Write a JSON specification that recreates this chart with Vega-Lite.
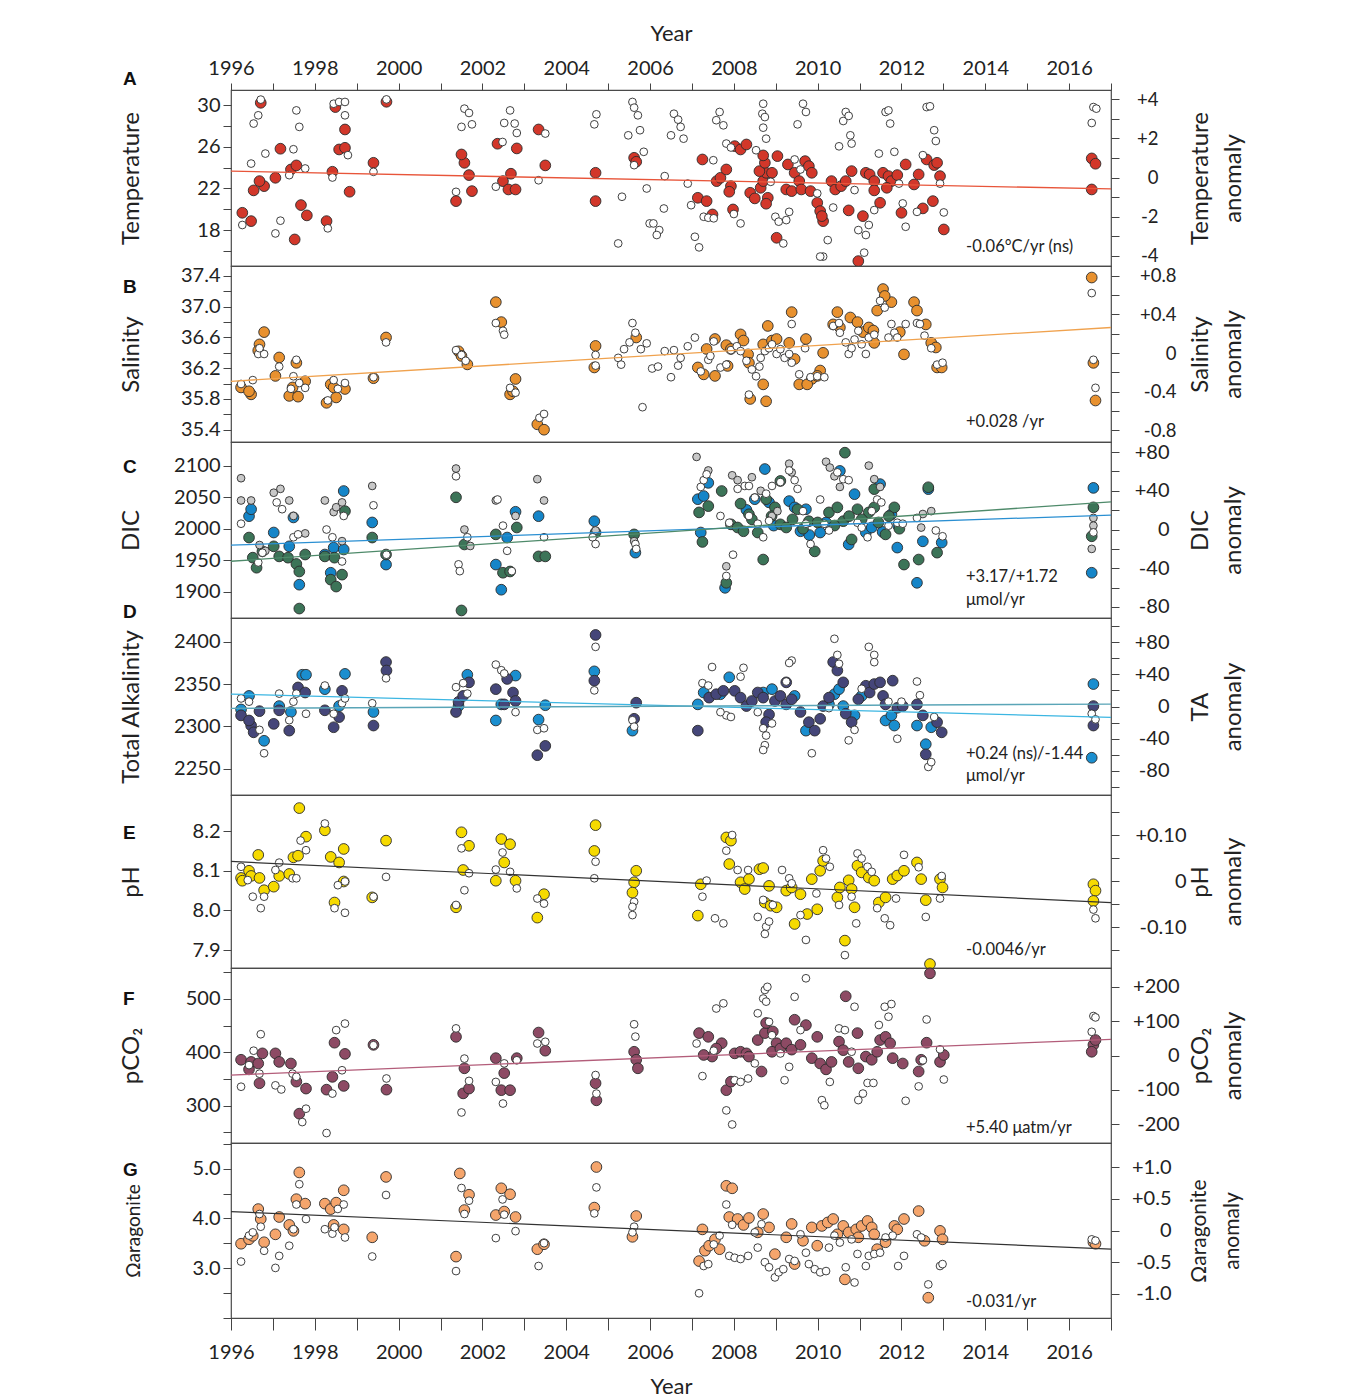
{
"$schema":"https://vega.github.io/schema/vega-lite/v6.json",
"background":"white",
"padding":{"left":118,"top":21,"right":5,"bottom":5},
"bounds":"flush",
"spacing":0,
"resolve":{"scale":{"fill":"independent","color":"independent"}},
"config":{"font":"Lato","view":{"stroke":"#4a4a4a","strokeWidth":1.2},
 "axis":{"labelFontSize":20,"labelColor":"#222","tickColor":"#444","tickWidth":1,"domain":false,"grid":false,"titleFontWeight":"normal","titleFontSize":24,"titleColor":"#222","tickSize":8,"labelOverlap":false,"labelFlush":false,"titleLineHeight":33},
 "title":{"font":"Liberation Sans","fontSize":19,"fontWeight":"bold","color":"#111","anchor":"start","frame":"group","offset":0,"baseline":"bottom"}},
"vconcat":[
{"width":880,"height":176,"title":{"text":"A","dx":-108,"dy":71},
 "layer":[
 {"data":{"values":[{"x":1996.27,"y":19.66},{"x":1996.48,"y":18.86},{"x":1996.54,"y":21.81},{"x":1996.79,"y":22.22},{"x":1996.68,"y":22.7},{"x":1997.06,"y":23.02},{"x":1997.18,"y":25.81},{"x":1997.43,"y":23.82},{"x":1997.56,"y":24.21},{"x":1997.67,"y":20.4},{"x":1997.81,"y":19.41},{"x":1997.52,"y":17.1},{"x":1998.28,"y":18.86},{"x":1998.42,"y":23.6},{"x":1998.49,"y":29.81},{"x":1998.58,"y":25.74},{"x":1998.72,"y":25.9},{"x":1998.72,"y":27.66},{"x":1998.83,"y":21.68},{"x":1996.71,"y":30.22},{"x":1999.4,"y":24.46},{"x":1999.71,"y":30.32},{"x":2001.37,"y":20.78},{"x":2001.75,"y":21.74},{"x":2001.68,"y":23.28},{"x":2001.57,"y":24.46},{"x":2001.5,"y":25.26},{"x":2002.36,"y":26.29},{"x":2002.82,"y":25.84},{"x":2002.68,"y":23.41},{"x":2002.49,"y":22.7},{"x":2002.62,"y":21.9},{"x":2002.79,"y":21.9},{"x":2003.34,"y":27.66},{"x":2003.5,"y":24.21},{"x":2004.7,"y":23.5},{"x":2004.7,"y":20.78},{"x":2005.62,"y":24.94},{"x":2005.67,"y":24.56},{"x":2007.25,"y":24.78},{"x":2007.14,"y":21.1},{"x":2007.35,"y":20.78},{"x":2007.49,"y":19.5},{"x":2007.59,"y":22.7},{"x":2007.68,"y":23.02},{"x":2007.82,"y":23.82},{"x":2007.93,"y":22.22},{"x":2007.89,"y":21.68},{"x":2007.98,"y":19.98},{"x":2008.02,"y":26.06},{"x":2008.16,"y":25.74},{"x":2008.3,"y":26.22},{"x":2008.39,"y":21.58},{"x":2008.5,"y":21.04},{"x":2008.64,"y":22.06},{"x":2008.7,"y":22.7},{"x":2008.77,"y":23.5},{"x":2008.61,"y":23.66},{"x":2008.74,"y":24.46},{"x":2008.81,"y":21.1},{"x":2008.77,"y":20.53},{"x":2008.7,"y":25.17},{"x":2008.91,"y":23.5},{"x":2009.04,"y":25.1},{"x":2009.02,"y":17.26},{"x":2009.29,"y":24.3},{"x":2009.25,"y":21.9},{"x":2009.38,"y":21.74},{"x":2009.45,"y":23.5},{"x":2009.56,"y":22.7},{"x":2009.61,"y":21.9},{"x":2009.7,"y":24.62},{"x":2009.79,"y":24.14},{"x":2009.86,"y":23.5},{"x":2009.83,"y":21.74},{"x":2009.99,"y":20.62},{"x":2010.06,"y":19.82},{"x":2010.13,"y":18.86},{"x":2010.1,"y":19.34},{"x":2010.33,"y":22.7},{"x":2010.42,"y":21.9},{"x":2010.56,"y":22.22},{"x":2010.67,"y":22.7},{"x":2010.81,"y":23.66},{"x":2010.74,"y":19.89},{"x":2010.97,"y":15.02},{"x":2011.08,"y":19.34},{"x":2011.15,"y":23.5},{"x":2011.24,"y":23.34},{"x":2011.35,"y":22.7},{"x":2011.35,"y":21.81},{"x":2011.49,"y":20.62},{"x":2011.56,"y":23.5},{"x":2011.69,"y":23.18},{"x":2011.76,"y":22.7},{"x":2011.9,"y":23.28},{"x":2011.65,"y":22.06},{"x":2012.0,"y":19.66},{"x":2012.1,"y":24.3},{"x":2012.3,"y":22.38},{"x":2012.41,"y":23.34},{"x":2012.51,"y":20.08},{"x":2012.6,"y":24.78},{"x":2012.78,"y":24.24},{"x":2012.85,"y":24.46},{"x":2012.75,"y":20.78},{"x":2012.92,"y":23.18},{"x":2013.01,"y":18.06},{"x":2016.54,"y":24.88},{"x":2016.63,"y":24.37},{"x":2016.54,"y":21.9}]},
  "mark":{"type":"circle","size":115,"opacity":1,"fill":"#d2372a","stroke":"#2b2b2b","strokeWidth":0.9},
  "encoding":{"x":{"field":"x","type":"quantitative","scale":{"domain":[1996,2017],"nice":false,"zero":false},"axis":{"orient":"top","title":"Year","values":[1996,1997,1998,1999,2000,2001,2002,2003,2004,2005,2006,2007,2008,2009,2010,2011,2012,2013,2014,2015,2016,2017],"labelExpr":"datum.value % 2 == 0 ? datum.value + '' : ''","tickSize":7,"labelPadding":5,"titlePadding":13,"titleFontSize":22}},
   "y":{"field":"y","type":"quantitative","scale":{"domain":[14.55,31.45],"nice":false,"zero":false},"axis":{"orient":"left","title":"Temperature","values":[16,18,20,22,24,26,28,30],"labelExpr":"datum.value % 4 == 2 ? datum.value + '' : ''","labelPadding":3,"titleAngle":270,"titleBaseline":"bottom","titleAlign":"center","titleX":-88,"titleY":88}}}},
 {"data":{"values":[{"x":1996.71,"y":3.97},{"x":1996.65,"y":3.17},{"x":1996.54,"y":2.75},{"x":1997.56,"y":3.42},{"x":1997.63,"y":2.58},{"x":1996.82,"y":1.22},{"x":1996.48,"y":0.71},{"x":1997.49,"y":1.44},{"x":1997.39,"y":0.12},{"x":1997.77,"y":0.46},{"x":1996.27,"y":-2.42},{"x":1997.18,"y":-2.2},{"x":1997.06,"y":-2.85},{"x":1998.45,"y":3.76},{"x":1998.58,"y":3.85},{"x":1998.72,"y":3.85},{"x":1998.72,"y":3.17},{"x":1998.42,"y":0},{"x":1998.79,"y":1.14},{"x":1998.31,"y":-2.59},{"x":1999.4,"y":0.29},{"x":1999.71,"y":3.98},{"x":2001.57,"y":3.51},{"x":2001.68,"y":3.29},{"x":2001.5,"y":2.58},{"x":2001.75,"y":2.71},{"x":2001.37,"y":-0.73},{"x":2002.66,"y":3.42},{"x":2002.52,"y":2.78},{"x":2002.77,"y":2.75},{"x":2002.82,"y":2.27},{"x":2002.48,"y":1.81},{"x":2002.32,"y":-0.47},{"x":2003.34,"y":-0.14},{"x":2003.5,"y":2.24},{"x":2004.72,"y":3.22},{"x":2004.67,"y":2.71},{"x":2005.58,"y":3.85},{"x":2005.62,"y":3.56},{"x":2005.71,"y":3.17},{"x":2005.76,"y":2.41},{"x":2005.48,"y":2.15},{"x":2005.85,"y":1.31},{"x":2005.62,"y":0.63},{"x":2005.92,"y":-0.56},{"x":2005.33,"y":-0.98},{"x":2005.24,"y":-3.36},{"x":2006.35,"y":0.07},{"x":2006.33,"y":-1.58},{"x":2005.99,"y":-2.34},{"x":2006.08,"y":-2.34},{"x":2006.22,"y":-2.68},{"x":2006.16,"y":-2.93},{"x":2006.57,"y":3.25},{"x":2006.67,"y":2.95},{"x":2006.73,"y":2.58},{"x":2006.5,"y":2.15},{"x":2006.8,"y":1.98},{"x":2006.9,"y":-0.31},{"x":2007.07,"y":-3.02},{"x":2007.17,"y":-3.56},{"x":2006.98,"y":-1.41},{"x":2007.51,"y":0.88},{"x":2007.28,"y":-2.0},{"x":2007.39,"y":-2.05},{"x":2007.52,"y":-2.08},{"x":2007.66,"y":3.34},{"x":2007.58,"y":2.92},{"x":2007.75,"y":2.66},{"x":2007.82,"y":1.73},{"x":2007.93,"y":1.53},{"x":2008.0,"y":-1.86},{"x":2008.16,"y":-2.34},{"x":2008.53,"y":1.39},{"x":2008.7,"y":3.76},{"x":2008.68,"y":3.25},{"x":2008.74,"y":3.08},{"x":2008.7,"y":2.54},{"x":2008.77,"y":1.98},{"x":2008.88,"y":-0.22},{"x":2008.99,"y":-2.0},{"x":2009.07,"y":-2.25},{"x":2009.18,"y":-3.36},{"x":2009.25,"y":-2.17},{"x":2009.32,"y":-1.75},{"x":2009.65,"y":3.76},{"x":2009.72,"y":3.34},{"x":2009.52,"y":2.71},{"x":2009.45,"y":0.92},{"x":2009.59,"y":0.41},{"x":2009.99,"y":-0.81},{"x":2010.24,"y":-3.19},{"x":2010.13,"y":-4.03},{"x":2010.06,"y":-4.03},{"x":2010.37,"y":-1.53},{"x":2010.51,"y":1.59},{"x":2010.81,"y":1.73},{"x":2010.78,"y":2.15},{"x":2010.67,"y":3.34},{"x":2010.61,"y":2.88},{"x":2010.74,"y":3.14},{"x":2010.88,"y":-0.64},{"x":2010.97,"y":-2.68},{"x":2011.15,"y":-2.93},{"x":2011.22,"y":-2.42},{"x":2011.11,"y":-3.83},{"x":2011.46,"y":1.22},{"x":2011.83,"y":1.31},{"x":2011.62,"y":3.34},{"x":2011.69,"y":3.42},{"x":2011.73,"y":2.75},{"x":2011.35,"y":-1.66},{"x":2012.1,"y":-2.51},{"x":2012.03,"y":-1.32},{"x":2011.94,"y":-0.31},{"x":2012.37,"y":-1.75},{"x":2012.6,"y":3.59},{"x":2012.68,"y":3.63},{"x":2012.78,"y":2.41},{"x":2012.82,"y":1.86},{"x":2012.51,"y":1.14},{"x":2012.92,"y":-0.31},{"x":2013.01,"y":-1.78},{"x":2016.58,"y":3.59},{"x":2016.65,"y":3.51},{"x":2016.54,"y":2.78}]},
  "mark":{"type":"circle","size":60,"opacity":1,"fill":"#ffffff","stroke":"#2b2b2b","strokeWidth":0.9},
  "encoding":{"x":{"field":"x","type":"quantitative","scale":{"domain":[1996,2017],"nice":false,"zero":false},"axis":{"orient":"top","title":"Year","values":[1996,1997,1998,1999,2000,2001,2002,2003,2004,2005,2006,2007,2008,2009,2010,2011,2012,2013,2014,2015,2016,2017],"labelExpr":"datum.value % 2 == 0 ? datum.value + '' : ''","tickSize":7,"labelPadding":5,"titlePadding":13,"titleFontSize":22}},
   "y":{"field":"y","type":"quantitative","scale":{"domain":[-4.51,4.46],"nice":false,"zero":false},"axis":{"orient":"right","title":["Temperature","anomaly"],"labelFontSize":18.5,"values":[-4,-3,-2,-1,0,1,2,3,4],"labelExpr":"datum.value % 2 != 0 ? '' : datum.value > 0 ? '+' + datum.value : datum.value < 0 ? '-' + abs(datum.value) : '0'","labelAlign":"right","labelPadding":39,"titleAngle":270,"titleBaseline":"top","titleAlign":"center","titleX":77,"titleY":88}}}},
 {"data":{"values":[{"x":1996,"y":23.66},{"x":2017,"y":21.95}]},
  "mark":{"type":"line","stroke":"#e8553a","strokeWidth":1.3},
  "encoding":{"x":{"field":"x","type":"quantitative","scale":{"domain":[1996,2017],"nice":false,"zero":false},"axis":{"orient":"top","title":"Year","values":[1996,1997,1998,1999,2000,2001,2002,2003,2004,2005,2006,2007,2008,2009,2010,2011,2012,2013,2014,2015,2016,2017],"labelExpr":"datum.value % 2 == 0 ? datum.value + '' : ''","tickSize":7,"labelPadding":5,"titlePadding":13,"titleFontSize":22}},
   "y":{"field":"y","type":"quantitative","scale":{"domain":[14.55,31.45],"nice":false,"zero":false},"axis":null}}},
 {"data":{"values":[{"x":2013.54,"y":16.37,"t":"-0.06°C/yr (ns)"}]},
  "mark":{"type":"text","align":"left","baseline":"middle","fontSize":16.5,"color":"#222"},
  "encoding":{"x":{"field":"x","type":"quantitative","scale":{"domain":[1996,2017],"nice":false,"zero":false},"axis":{"orient":"top","title":"Year","values":[1996,1997,1998,1999,2000,2001,2002,2003,2004,2005,2006,2007,2008,2009,2010,2011,2012,2013,2014,2015,2016,2017],"labelExpr":"datum.value % 2 == 0 ? datum.value + '' : ''","tickSize":7,"labelPadding":5,"titlePadding":13,"titleFontSize":22}},
   "y":{"field":"y","type":"quantitative","scale":{"domain":[14.55,31.45],"nice":false,"zero":false},"axis":null},"text":{"field":"t"}}}
 ],
 "resolve":{"scale":{"y":"independent"}}},

{"width":880,"height":176,"title":{"text":"B","dx":-108,"dy":35},
 "layer":[
 {"data":{"values":[{"x":1996.24,"y":35.95},{"x":1996.48,"y":35.86},{"x":1996.43,"y":35.9},{"x":1996.79,"y":36.67},{"x":1996.68,"y":36.51},{"x":1996.65,"y":36.43},{"x":1997.06,"y":36.1},{"x":1997.15,"y":36.34},{"x":1997.56,"y":36.27},{"x":1997.77,"y":36.03},{"x":1997.39,"y":35.84},{"x":1997.6,"y":35.83},{"x":1997.47,"y":35.95},{"x":1998.38,"y":35.99},{"x":1998.51,"y":35.82},{"x":1998.28,"y":35.75},{"x":1998.72,"y":35.93},{"x":1998.45,"y":35.95},{"x":1999.4,"y":36.07},{"x":1999.7,"y":36.6},{"x":2001.43,"y":36.42},{"x":2001.5,"y":36.36},{"x":2001.64,"y":36.25},{"x":2002.32,"y":37.06},{"x":2002.45,"y":36.8},{"x":2002.79,"y":36.06},{"x":2002.66,"y":35.86},{"x":2002.73,"y":35.9},{"x":2003.31,"y":35.47},{"x":2003.47,"y":35.4},{"x":2004.7,"y":36.49},{"x":2004.67,"y":36.21},{"x":2005.67,"y":36.6},{"x":2007.14,"y":36.21},{"x":2007.28,"y":36.12},{"x":2007.35,"y":36.45},{"x":2007.55,"y":36.58},{"x":2007.55,"y":36.1},{"x":2007.82,"y":36.5},{"x":2007.93,"y":36.45},{"x":2007.85,"y":36.23},{"x":2008.16,"y":36.64},{"x":2008.23,"y":36.56},{"x":2008.34,"y":36.38},{"x":2008.36,"y":36.27},{"x":2008.39,"y":35.8},{"x":2008.77,"y":35.77},{"x":2008.7,"y":35.99},{"x":2008.81,"y":36.75},{"x":2008.7,"y":36.51},{"x":2008.91,"y":36.56},{"x":2009.02,"y":36.58},{"x":2009.32,"y":36.53},{"x":2009.38,"y":36.93},{"x":2009.45,"y":36.32},{"x":2009.72,"y":36.58},{"x":2009.56,"y":35.99},{"x":2009.86,"y":36.06},{"x":2009.75,"y":35.99},{"x":2010.06,"y":36.17},{"x":2010.13,"y":36.4},{"x":2009.99,"y":36.1},{"x":2010.47,"y":36.93},{"x":2010.53,"y":36.73},{"x":2010.37,"y":36.77},{"x":2010.78,"y":36.86},{"x":2010.95,"y":36.8},{"x":2011.08,"y":36.67},{"x":2011.22,"y":36.73},{"x":2011.33,"y":36.69},{"x":2011.42,"y":36.95},{"x":2011.56,"y":37.23},{"x":2011.76,"y":37.06},{"x":2011.6,"y":37.14},{"x":2011.35,"y":36.53},{"x":2011.96,"y":36.67},{"x":2012.06,"y":36.38},{"x":2012.3,"y":37.06},{"x":2012.37,"y":36.95},{"x":2012.58,"y":36.77},{"x":2012.71,"y":36.53},{"x":2012.82,"y":36.47},{"x":2012.85,"y":36.21},{"x":2012.96,"y":36.21},{"x":2016.54,"y":37.38},{"x":2016.58,"y":36.27},{"x":2016.63,"y":35.78}]},
  "mark":{"type":"circle","size":115,"opacity":1,"fill":"#e8912f","stroke":"#2b2b2b","strokeWidth":0.9},
  "encoding":{"x":{"field":"x","type":"quantitative","scale":{"domain":[1996,2017],"nice":false,"zero":false},"axis":null},
   "y":{"field":"y","type":"quantitative","scale":{"domain":[35.24,37.53],"nice":false,"zero":false},"axis":{"orient":"left","title":"Salinity","values":[35.4,35.6,35.8,36.0,36.2,36.4,36.6,36.8,37.0,37.2,37.4],"labelExpr":"round(datum.value*10) % 4 == 2 ? format(datum.value,'.1f') : ''","labelPadding":3,"titleAngle":270,"titleBaseline":"bottom","titleAlign":"center","titleX":-88,"titleY":88}}}},
 {"data":{"values":[{"x":1996.24,"y":-0.32},{"x":1996.52,"y":-0.28},{"x":1996.65,"y":-0.01},{"x":1996.79,"y":-0.01},{"x":1996.68,"y":0.05},{"x":1997.15,"y":-0.14},{"x":1997.49,"y":-0.24},{"x":1997.63,"y":-0.31},{"x":1997.77,"y":-0.36},{"x":1997.43,"y":-0.37},{"x":1997.56,"y":-0.07},{"x":1998.45,"y":-0.28},{"x":1998.55,"y":-0.37},{"x":1998.72,"y":-0.31},{"x":1998.31,"y":-0.49},{"x":1999.4,"y":-0.25},{"x":1999.7,"y":0.11},{"x":2001.37,"y":0.03},{"x":2001.5,"y":-0.02},{"x":2001.6,"y":-0.08},{"x":2002.32,"y":0.31},{"x":2002.49,"y":0.23},{"x":2002.52,"y":0.19},{"x":2002.66,"y":-0.36},{"x":2002.79,"y":-0.41},{"x":2003.36,"y":-0.67},{"x":2003.47,"y":-0.63},{"x":2004.7,"y":-0.02},{"x":2004.7,"y":-0.13},{"x":2005.58,"y":0.31},{"x":2005.51,"y":0.11},{"x":2005.65,"y":0.21},{"x":2005.24,"y":-0.05},{"x":2005.38,"y":0.04},{"x":2005.31,"y":-0.12},{"x":2005.78,"y":0.04},{"x":2005.92,"y":0.1},{"x":2005.82,"y":-0.56},{"x":2006.05,"y":-0.16},{"x":2006.19,"y":-0.14},{"x":2006.35,"y":0.02},{"x":2006.57,"y":0.03},{"x":2006.5,"y":-0.25},{"x":2006.67,"y":-0.13},{"x":2006.73,"y":-0.05},{"x":2006.9,"y":0.07},{"x":2007.07,"y":0.16},{"x":2007.21,"y":-0.19},{"x":2007.39,"y":-0.07},{"x":2007.44,"y":-0.03},{"x":2007.52,"y":0.12},{"x":2007.68,"y":-0.15},{"x":2007.82,"y":-0.12},{"x":2007.93,"y":0.03},{"x":2008.07,"y":0.07},{"x":2008.16,"y":0.02},{"x":2008.3,"y":-0.08},{"x":2008.43,"y":-0.17},{"x":2008.53,"y":-0.24},{"x":2008.61,"y":-0.14},{"x":2008.36,"y":-0.43},{"x":2008.64,"y":-0.05},{"x":2008.74,"y":0.02},{"x":2008.84,"y":0.05},{"x":2008.91,"y":0.09},{"x":2009.02,"y":-0.01},{"x":2009.11,"y":0.04},{"x":2009.21,"y":-0.05},{"x":2009.32,"y":-0.01},{"x":2009.38,"y":-0.1},{"x":2009.38,"y":0.3},{"x":2009.56,"y":-0.22},{"x":2009.7,"y":0.05},{"x":2009.83,"y":-0.25},{"x":2009.99,"y":-0.24},{"x":2010.16,"y":-0.25},{"x":2010.37,"y":0.28},{"x":2010.51,"y":0.31},{"x":2010.53,"y":0.21},{"x":2010.67,"y":0.11},{"x":2010.74,"y":-0.01},{"x":2010.81,"y":0.05},{"x":2010.88,"y":0.14},{"x":2010.97,"y":0.23},{"x":2011.05,"y":0.09},{"x":2011.15,"y":-0.01},{"x":2011.22,"y":0.16},{"x":2011.35,"y":0.19},{"x":2011.49,"y":0.54},{"x":2011.6,"y":0.47},{"x":2011.76,"y":0.3},{"x":2011.69,"y":0.16},{"x":2011.83,"y":0.21},{"x":2011.9,"y":0.16},{"x":2012.1,"y":0.3},{"x":2012.37,"y":0.31},{"x":2012.44,"y":0.3},{"x":2012.55,"y":0.18},{"x":2012.71,"y":0.05},{"x":2012.85,"y":-0.12},{"x":2012.98,"y":-0.1},{"x":2016.54,"y":0.62},{"x":2016.58,"y":-0.07},{"x":2016.63,"y":-0.36}]},
  "mark":{"type":"circle","size":60,"opacity":1,"fill":"#ffffff","stroke":"#2b2b2b","strokeWidth":0.9},
  "encoding":{"x":{"field":"x","type":"quantitative","scale":{"domain":[1996,2017],"nice":false,"zero":false},"axis":null},
   "y":{"field":"y","type":"quantitative","scale":{"domain":[-0.92,0.9],"nice":false,"zero":false},"axis":{"orient":"right","title":["Salinity","anomaly"],"labelFontSize":18.5,"values":[-0.8,-0.6,-0.4,-0.2,0,0.2,0.4,0.6,0.8],"labelExpr":"round(datum.value*10) % 4 != 0 ? '' : datum.value > 0.01 ? '+' + format(datum.value,'.1f') : datum.value < -0.01 ? '-' + format(-datum.value,'.1f') : '0'","labelAlign":"right","labelPadding":57,"titleAngle":270,"titleBaseline":"top","titleAlign":"center","titleX":77,"titleY":88}}}},
 {"data":{"values":[{"x":1996,"y":36.03},{"x":2017,"y":36.73}]},
  "mark":{"type":"line","stroke":"#f0a24e","strokeWidth":1.3},
  "encoding":{"x":{"field":"x","type":"quantitative","scale":{"domain":[1996,2017],"nice":false,"zero":false},"axis":null},
   "y":{"field":"y","type":"quantitative","scale":{"domain":[35.24,37.53],"nice":false,"zero":false},"axis":null}}},
 {"data":{"values":[{"x":2013.54,"y":35.5,"t":"+0.028 /yr"}]},
  "mark":{"type":"text","align":"left","baseline":"middle","fontSize":16.5,"color":"#222"},
  "encoding":{"x":{"field":"x","type":"quantitative","scale":{"domain":[1996,2017],"nice":false,"zero":false},"axis":null},
   "y":{"field":"y","type":"quantitative","scale":{"domain":[35.24,37.53],"nice":false,"zero":false},"axis":null},"text":{"field":"t"}}}
 ],
 "resolve":{"scale":{"y":"independent"}}},

{"width":880,"height":176,"title":{"text":"C","dx":-108,"dy":39},
 "layer":[
 {"data":{"values":[{"s":"b","x":1996.43,"y":2020},{"s":"b","x":1996.48,"y":2031},{"s":"b","x":1997.02,"y":1994},{"s":"b","x":1997.39,"y":1972},{"s":"b","x":1997.49,"y":2018},{"s":"b","x":1997.63,"y":1911},{"s":"b","x":1998.24,"y":1959},{"s":"b","x":1998.45,"y":1970},{"s":"b","x":1998.69,"y":2060},{"s":"b","x":1998.38,"y":1930},{"s":"b","x":1998.69,"y":1967},{"s":"b","x":1999.37,"y":2010},{"s":"b","x":1999.7,"y":1943},{"s":"b","x":2002.32,"y":1943},{"s":"b","x":2002.45,"y":1903},{"s":"b","x":2002.79,"y":2027},{"s":"b","x":2002.59,"y":1986},{"s":"b","x":2003.34,"y":2020},{"s":"b","x":2004.67,"y":2012},{"s":"b","x":2005.65,"y":1962},{"s":"b","x":2007.14,"y":2047},{"s":"b","x":2007.28,"y":2052},{"s":"b","x":2007.39,"y":2073},{"s":"b","x":2007.21,"y":1994},{"s":"b","x":2007.79,"y":1906},{"s":"b","x":2008.74,"y":2095},{"s":"b","x":2008.5,"y":2047},{"s":"b","x":2008.84,"y":2042},{"s":"b","x":2009.32,"y":2044},{"s":"b","x":2009.45,"y":2034},{"s":"b","x":2009.59,"y":1996},{"s":"b","x":2009.72,"y":2031},{"s":"b","x":2010.06,"y":1994},{"s":"b","x":2010.53,"y":2092},{"s":"b","x":2010.88,"y":2055},{"s":"b","x":2010.74,"y":1975},{"s":"b","x":2011.15,"y":1994},{"s":"b","x":2011.29,"y":2002},{"s":"b","x":2011.49,"y":2071},{"s":"b","x":2011.76,"y":2023},{"s":"b","x":2011.9,"y":1970},{"s":"b","x":2012.37,"y":1914},{"s":"b","x":2012.51,"y":1980},{"s":"b","x":2012.64,"y":2063},{"s":"b","x":2012.96,"y":1978},{"s":"b","x":2016.58,"y":2065},{"s":"b","x":2016.54,"y":1930},{"s":"b","x":2008.3,"y":2030},{"s":"b","x":2008.95,"y":2005},{"s":"b","x":2009.8,"y":1990},{"s":"b","x":2010.2,"y":2010},{"s":"b","x":2011.55,"y":1995},{"s":"b","x":2011.92,"y":2005},
 {"s":"g","x":1996.43,"y":1986},{"s":"g","x":1996.61,"y":1938},{"s":"g","x":1996.52,"y":1954},{"s":"g","x":1996.75,"y":1964},{"s":"g","x":1997.02,"y":1972},{"s":"g","x":1997.15,"y":1956},{"s":"g","x":1997.36,"y":1954},{"s":"g","x":1997.56,"y":1944},{"s":"g","x":1997.63,"y":1932},{"s":"g","x":1997.63,"y":1873},{"s":"g","x":1997.77,"y":1959},{"s":"g","x":1998.24,"y":1956},{"s":"g","x":1998.38,"y":1919},{"s":"g","x":1998.51,"y":1908},{"s":"g","x":1998.65,"y":1927},{"s":"g","x":1998.47,"y":1954},{"s":"g","x":1998.72,"y":2028},{"s":"g","x":1999.37,"y":1986},{"s":"g","x":1999.7,"y":1959},{"s":"g","x":2001.37,"y":2050},{"s":"g","x":2001.5,"y":1870},{"s":"g","x":2001.57,"y":1975},{"s":"g","x":2002.32,"y":1991},{"s":"g","x":2002.49,"y":1930},{"s":"g","x":2002.66,"y":1932},{"s":"g","x":2002.82,"y":2002},{"s":"g","x":2003.34,"y":1956},{"s":"g","x":2003.5,"y":1956},{"s":"g","x":2004.7,"y":1994},{"s":"g","x":2005.62,"y":1991},{"s":"g","x":2007.17,"y":2026},{"s":"g","x":2007.39,"y":2036},{"s":"g","x":2007.25,"y":1979},{"s":"g","x":2007.71,"y":2060},{"s":"g","x":2007.82,"y":1914},{"s":"g","x":2007.93,"y":2007},{"s":"g","x":2008.09,"y":2002},{"s":"g","x":2008.23,"y":1996},{"s":"g","x":2008.36,"y":2023},{"s":"g","x":2008.57,"y":1994},{"s":"g","x":2008.7,"y":1951},{"s":"g","x":2008.77,"y":2047},{"s":"g","x":2008.98,"y":2034},{"s":"g","x":2009.11,"y":2076},{"s":"g","x":2009.11,"y":2007},{"s":"g","x":2009.25,"y":2002},{"s":"g","x":2009.52,"y":2031},{"s":"g","x":2009.79,"y":2012},{"s":"g","x":2009.93,"y":1964},{"s":"g","x":2010.27,"y":2026},{"s":"g","x":2010.47,"y":2034},{"s":"g","x":2010.65,"y":2121},{"s":"g","x":2010.61,"y":2012},{"s":"g","x":2010.81,"y":1983},{"s":"g","x":2010.95,"y":2031},{"s":"g","x":2011.22,"y":2026},{"s":"g","x":2011.35,"y":2034},{"s":"g","x":2011.35,"y":2063},{"s":"g","x":2011.62,"y":1991},{"s":"g","x":2011.83,"y":2034},{"s":"g","x":2012.06,"y":1943},{"s":"g","x":2012.41,"y":1951},{"s":"g","x":2012.64,"y":2066},{"s":"g","x":2012.85,"y":1962},{"s":"g","x":2016.58,"y":2034},{"s":"g","x":2016.54,"y":1988},{"s":"g","x":2008.16,"y":2040},{"s":"g","x":2008.43,"y":2015},{"s":"g","x":2008.9,"y":2020},{"s":"g","x":2009.4,"y":2015},{"s":"g","x":2009.65,"y":2000},{"s":"g","x":2010.0,"y":2010},{"s":"g","x":2010.4,"y":2005},{"s":"g","x":2010.75,"y":2020},{"s":"g","x":2011.05,"y":2015},{"s":"g","x":2011.45,"y":2010},{"s":"g","x":2011.7,"y":2020},{"s":"g","x":2011.95,"y":2000}]},
  "mark":{"type":"circle","size":115,"opacity":1,"stroke":"#2b2b2b","strokeWidth":0.9},
  "encoding":{"x":{"field":"x","type":"quantitative","scale":{"domain":[1996,2017],"nice":false,"zero":false},"axis":null},
   "y":{"field":"y","type":"quantitative","scale":{"domain":[1858,2138],"nice":false,"zero":false},"axis":{"orient":"left","title":"DIC","values":[1900,1950,2000,2050,2100],"format":"d","labelPadding":3,"titleAngle":270,"titleBaseline":"bottom","titleAlign":"center","titleX":-88,"titleY":88}},
   "fill":{"field":"s","type":"nominal","scale":{"domain":["b","g"],"range":["#1585c8","#3c7458"]},"legend":null}}},
 {"data":{"values":[{"s":"g","x":1996.24,"y":53},{"s":"g","x":1996.24,"y":30},{"s":"g","x":1996.48,"y":30},{"s":"g","x":1996.68,"y":-16},{"s":"g","x":1996.82,"y":-22},{"s":"g","x":1997.02,"y":38},{"s":"g","x":1997.18,"y":42},{"s":"g","x":1997.39,"y":30},{"s":"g","x":1997.49,"y":14},{"s":"g","x":1997.77,"y":-4},{"s":"g","x":1998.24,"y":30},{"s":"g","x":1998.45,"y":18},{"s":"g","x":1998.51,"y":23},{"s":"g","x":1998.65,"y":28},{"s":"g","x":1998.65,"y":-12},{"s":"g","x":1999.37,"y":45},{"s":"g","x":2001.37,"y":63},{"s":"g","x":2001.57,"y":0},{"s":"g","x":2001.71,"y":-17},{"s":"g","x":2002.32,"y":30},{"s":"g","x":2002.79,"y":14},{"s":"g","x":2003.31,"y":52},{"s":"g","x":2003.47,"y":30},{"s":"g","x":2004.7,"y":-1},{"s":"g","x":2005.62,"y":-12},{"s":"g","x":2007.11,"y":75},{"s":"g","x":2007.39,"y":61},{"s":"g","x":2007.82,"y":-38},{"s":"g","x":2007.96,"y":56},{"s":"g","x":2008.09,"y":51},{"s":"g","x":2008.43,"y":54},{"s":"g","x":2008.64,"y":40},{"s":"g","x":2008.91,"y":14},{"s":"g","x":2009.04,"y":19},{"s":"g","x":2009.32,"y":68},{"s":"g","x":2009.38,"y":59},{"s":"g","x":2010.2,"y":70},{"s":"g","x":2010.29,"y":64},{"s":"g","x":2010.4,"y":55},{"s":"g","x":2010.53,"y":44},{"s":"g","x":2011.22,"y":66},{"s":"g","x":2011.35,"y":52},{"s":"g","x":2011.49,"y":44},{"s":"g","x":2012.51,"y":16},{"s":"g","x":2012.71,"y":19},{"s":"g","x":2012.47,"y":2},{"s":"g","x":2016.58,"y":12},{"s":"g","x":2016.58,"y":4},{"s":"g","x":2016.54,"y":-20},
 {"s":"w","x":1996.24,"y":6},{"s":"w","x":1996.75,"y":-24},{"s":"w","x":1996.65,"y":-34},{"s":"w","x":1997.09,"y":28},{"s":"w","x":1997.22,"y":21},{"s":"w","x":1997.49,"y":-8},{"s":"w","x":1997.6,"y":-5},{"s":"w","x":1998.28,"y":0},{"s":"w","x":1998.42,"y":-8},{"s":"w","x":1998.69,"y":14},{"s":"w","x":1998.65,"y":-33},{"s":"w","x":1999.4,"y":25},{"s":"w","x":1999.71,"y":-26},{"s":"w","x":2001.37,"y":55},{"s":"w","x":2001.43,"y":-36},{"s":"w","x":2001.46,"y":-43},{"s":"w","x":2001.64,"y":-8},{"s":"w","x":2002.36,"y":31},{"s":"w","x":2002.49,"y":4},{"s":"w","x":2002.59,"y":-22},{"s":"w","x":2002.7,"y":-43},{"s":"w","x":2003.47,"y":-8},{"s":"w","x":2004.63,"y":-8},{"s":"w","x":2004.7,"y":-15},{"s":"w","x":2005.65,"y":-15},{"s":"w","x":2005.67,"y":-20},{"s":"w","x":2007.21,"y":44},{"s":"w","x":2007.28,"y":51},{"s":"w","x":2007.35,"y":57},{"s":"w","x":2007.68,"y":14},{"s":"w","x":2007.89,"y":7},{"s":"w","x":2007.98,"y":-26},{"s":"w","x":2007.82,"y":-48},{"s":"w","x":2008.09,"y":42},{"s":"w","x":2008.26,"y":45},{"s":"w","x":2008.36,"y":45},{"s":"w","x":2008.5,"y":33},{"s":"w","x":2008.77,"y":37},{"s":"w","x":2008.91,"y":45},{"s":"w","x":2009.11,"y":49},{"s":"w","x":2008.36,"y":14},{"s":"w","x":2008.57,"y":6},{"s":"w","x":2008.7,"y":-8},{"s":"w","x":2008.84,"y":9},{"s":"w","x":2009.32,"y":61},{"s":"w","x":2009.45,"y":51},{"s":"w","x":2009.52,"y":42},{"s":"w","x":2009.65,"y":19},{"s":"w","x":2009.72,"y":6},{"s":"w","x":2009.83,"y":-15},{"s":"w","x":2010.06,"y":31},{"s":"w","x":2010.16,"y":6},{"s":"w","x":2010.27,"y":-1},{"s":"w","x":2010.47,"y":59},{"s":"w","x":2010.61,"y":52},{"s":"w","x":2010.74,"y":51},{"s":"w","x":2010.95,"y":7},{"s":"w","x":2011.05,"y":2},{"s":"w","x":2011.19,"y":-8},{"s":"w","x":2011.29,"y":19},{"s":"w","x":2011.42,"y":31},{"s":"w","x":2011.52,"y":28},{"s":"w","x":2011.69,"y":4},{"s":"w","x":2011.9,"y":7},{"s":"w","x":2012.03,"y":6},{"s":"w","x":2012.37,"y":12},{"s":"w","x":2012.82,"y":-1},{"s":"w","x":2012.98,"y":-7},{"s":"w","x":2016.58,"y":-3}]},
  "mark":{"type":"circle","size":60,"opacity":1,"stroke":"#2b2b2b","strokeWidth":0.9},
  "encoding":{"x":{"field":"x","type":"quantitative","scale":{"domain":[1996,2017],"nice":false,"zero":false},"axis":null},
   "y":{"field":"y","type":"quantitative","scale":{"domain":[-91.4,90.4],"nice":false,"zero":false},"axis":{"orient":"right","title":["DIC","anomaly"],"values":[-80,-60,-40,-20,0,20,40,60,80],"labelExpr":"datum.value % 40 != 0 ? '' : datum.value > 0 ? '+' + datum.value : datum.value < 0 ? '-' + abs(datum.value) : '0'","labelAlign":"right","labelPadding":50,"titleAngle":270,"titleBaseline":"top","titleAlign":"center","titleX":77,"titleY":88}},
   "fill":{"field":"s","type":"nominal","scale":{"domain":["g","w"],"range":["#c8c8c8","#ffffff"]},"legend":null}}},
 {"data":{"values":[{"s":"b","x":1996,"y":1973.9},{"s":"b","x":2017,"y":2021.8},{"s":"g","x":1996,"y":1948.3},{"s":"g","x":2017,"y":2042.6}]},
  "mark":{"type":"line","strokeWidth":1.3},
  "encoding":{"x":{"field":"x","type":"quantitative","scale":{"domain":[1996,2017],"nice":false,"zero":false},"axis":null},
   "y":{"field":"y","type":"quantitative","scale":{"domain":[1858,2138],"nice":false,"zero":false},"axis":null},
   "color":{"field":"s","type":"nominal","scale":{"domain":["b","g"],"range":["#2a8fd2","#4e8a6a"]},"legend":null}}},
 {"data":{"values":[{"x":2013.54,"y":1923,"t":"+3.17/+1.72"},{"x":2013.54,"y":1886,"t":"μmol/yr"}]},
  "mark":{"type":"text","align":"left","baseline":"middle","fontSize":16.5,"color":"#222"},
  "encoding":{"x":{"field":"x","type":"quantitative","scale":{"domain":[1996,2017],"nice":false,"zero":false},"axis":null},
   "y":{"field":"y","type":"quantitative","scale":{"domain":[1858,2138],"nice":false,"zero":false},"axis":null},"text":{"field":"t"}}}
 ],
 "resolve":{"scale":{"y":"independent","fill":"independent","color":"independent"}}},

{"width":880,"height":177,"title":{"text":"D","dx":-108,"dy":10},
 "layer":[
 {"data":{"values":[{"s":"t","x":1996.24,"y":2320},{"s":"t","x":1996.43,"y":2336},{"s":"t","x":1996.79,"y":2283},{"s":"t","x":1997.15,"y":2324},{"s":"t","x":1997.43,"y":2317},{"s":"t","x":1997.7,"y":2361},{"s":"t","x":1997.79,"y":2361},{"s":"t","x":1998.24,"y":2344},{"s":"t","x":1998.72,"y":2362},{"s":"t","x":1998.58,"y":2324},{"s":"t","x":1999.4,"y":2317},{"s":"t","x":2001.43,"y":2324},{"s":"t","x":2001.64,"y":2361},{"s":"t","x":2002.32,"y":2307},{"s":"t","x":2002.45,"y":2326},{"s":"t","x":2002.79,"y":2360},{"s":"t","x":2003.34,"y":2308},{"s":"t","x":2003.5,"y":2325},{"s":"t","x":2004.67,"y":2365},{"s":"t","x":2005.58,"y":2295},{"s":"t","x":2007.14,"y":2326},{"s":"t","x":2007.28,"y":2340},{"s":"t","x":2007.89,"y":2358},{"s":"t","x":2007.68,"y":2338},{"s":"t","x":2008.7,"y":2340},{"s":"t","x":2008.91,"y":2344},{"s":"t","x":2009.45,"y":2336},{"s":"t","x":2009.72,"y":2295},{"s":"t","x":2010.27,"y":2326},{"s":"t","x":2010.4,"y":2338},{"s":"t","x":2010.51,"y":2344},{"s":"t","x":2010.61,"y":2324},{"s":"t","x":2010.88,"y":2313},{"s":"t","x":2011.05,"y":2336},{"s":"t","x":2011.62,"y":2307},{"s":"t","x":2011.76,"y":2313},{"s":"t","x":2011.83,"y":2301},{"s":"t","x":2012.37,"y":2301},{"s":"t","x":2012.58,"y":2279},{"s":"t","x":2012.71,"y":2299},{"s":"t","x":2016.58,"y":2350},{"s":"t","x":2016.54,"y":2263},
 {"s":"n","x":1996.24,"y":2313},{"s":"n","x":1996.48,"y":2301},{"s":"n","x":1996.68,"y":2318},{"s":"n","x":1996.43,"y":2307},{"s":"n","x":1996.54,"y":2293},{"s":"n","x":1997.02,"y":2303},{"s":"n","x":1997.15,"y":2319},{"s":"n","x":1997.39,"y":2295},{"s":"n","x":1997.6,"y":2346},{"s":"n","x":1997.77,"y":2340},{"s":"n","x":1998.24,"y":2319},{"s":"n","x":1998.45,"y":2299},{"s":"n","x":1998.58,"y":2311},{"s":"n","x":1998.65,"y":2342},{"s":"n","x":1999.4,"y":2301},{"s":"n","x":1999.7,"y":2376},{"s":"n","x":1999.71,"y":2366},{"s":"n","x":2001.37,"y":2317},{"s":"n","x":2001.43,"y":2329},{"s":"n","x":2001.54,"y":2336},{"s":"n","x":2001.68,"y":2352},{"s":"n","x":2002.32,"y":2344},{"s":"n","x":2002.59,"y":2356},{"s":"n","x":2002.73,"y":2340},{"s":"n","x":2002.79,"y":2330},{"s":"n","x":2002.52,"y":2326},{"s":"n","x":2003.31,"y":2266},{"s":"n","x":2003.5,"y":2277},{"s":"n","x":2004.7,"y":2408},{"s":"n","x":2004.67,"y":2354},{"s":"n","x":2005.67,"y":2328},{"s":"n","x":2005.62,"y":2309},{"s":"n","x":2007.14,"y":2295},{"s":"n","x":2007.41,"y":2334},{"s":"n","x":2007.58,"y":2338},{"s":"n","x":2007.75,"y":2342},{"s":"n","x":2008.02,"y":2342},{"s":"n","x":2008.16,"y":2334},{"s":"n","x":2008.3,"y":2324},{"s":"n","x":2008.43,"y":2330},{"s":"n","x":2008.57,"y":2340},{"s":"n","x":2008.7,"y":2334},{"s":"n","x":2008.84,"y":2314},{"s":"n","x":2008.77,"y":2305},{"s":"n","x":2008.98,"y":2330},{"s":"n","x":2009.11,"y":2336},{"s":"n","x":2009.25,"y":2352},{"s":"n","x":2009.25,"y":2326},{"s":"n","x":2009.38,"y":2332},{"s":"n","x":2009.59,"y":2317},{"s":"n","x":2009.79,"y":2305},{"s":"n","x":2009.93,"y":2295},{"s":"n","x":2010.06,"y":2309},{"s":"n","x":2010.13,"y":2324},{"s":"n","x":2010.27,"y":2334},{"s":"n","x":2010.37,"y":2376},{"s":"n","x":2010.47,"y":2366},{"s":"n","x":2010.61,"y":2352},{"s":"n","x":2010.67,"y":2315},{"s":"n","x":2010.81,"y":2305},{"s":"n","x":2010.97,"y":2332},{"s":"n","x":2011.15,"y":2348},{"s":"n","x":2011.24,"y":2340},{"s":"n","x":2011.35,"y":2350},{"s":"n","x":2011.49,"y":2352},{"s":"n","x":2011.56,"y":2336},{"s":"n","x":2011.62,"y":2326},{"s":"n","x":2011.79,"y":2354},{"s":"n","x":2011.9,"y":2322},{"s":"n","x":2012.03,"y":2324},{"s":"n","x":2012.37,"y":2326},{"s":"n","x":2012.51,"y":2313},{"s":"n","x":2012.58,"y":2267},{"s":"n","x":2012.85,"y":2305},{"s":"n","x":2012.96,"y":2293},{"s":"n","x":2016.58,"y":2324},{"s":"n","x":2016.58,"y":2301}]},
  "mark":{"type":"circle","size":115,"opacity":1,"stroke":"#2b2b2b","strokeWidth":0.9},
  "encoding":{"x":{"field":"x","type":"quantitative","scale":{"domain":[1996,2017],"nice":false,"zero":false},"axis":null},
   "y":{"field":"y","type":"quantitative","scale":{"domain":[2219,2428],"nice":false,"zero":false},"axis":{"orient":"left","title":"Total Alkalinity","values":[2250,2300,2350,2400],"format":"d","labelPadding":3,"titleAngle":270,"titleBaseline":"bottom","titleAlign":"center","titleX":-88,"titleY":88.5}},
   "fill":{"field":"s","type":"nominal","scale":{"domain":["t","n"],"range":["#1a8ecf","#454679"]},"legend":null}}},
 {"data":{"values":[{"x":1996.24,"y":10},{"x":1996.43,"y":6},{"x":1996.68,"y":-29},{"x":1996.79,"y":-58},{"x":1997.15,"y":16},{"x":1997.39,"y":-17},{"x":1997.49,"y":6},{"x":1997.56,"y":16},{"x":1997.79,"y":-9},{"x":1998.24,"y":26},{"x":1998.45,"y":-9},{"x":1998.65,"y":4},{"x":1998.72,"y":10},{"x":1999.37,"y":4},{"x":1999.7,"y":35},{"x":2001.37,"y":24},{"x":2001.54,"y":29},{"x":2001.64,"y":16},{"x":2002.32,"y":52},{"x":2002.45,"y":45},{"x":2002.52,"y":41},{"x":2002.79,"y":-7},{"x":2003.31,"y":-29},{"x":2003.47,"y":-27},{"x":2004.7,"y":74},{"x":2004.67,"y":20},{"x":2005.58,"y":-17},{"x":2005.62,"y":-25},{"x":2007.48,"y":49},{"x":2007.25,"y":29},{"x":2007.39,"y":26},{"x":2007.82,"y":-11},{"x":2007.68,"y":-7},{"x":2007.93,"y":-13},{"x":2008.23,"y":48},{"x":2008.16,"y":37},{"x":2008.57,"y":-7},{"x":2008.7,"y":-27},{"x":2008.77,"y":-36},{"x":2008.74,"y":-48},{"x":2008.7,"y":-54},{"x":2008.91,"y":-21},{"x":2009.38,"y":57},{"x":2009.32,"y":54},{"x":2009.25,"y":31},{"x":2009.86,"y":-58},{"x":2010.27,"y":-2},{"x":2010.4,"y":84},{"x":2010.47,"y":64},{"x":2010.51,"y":53},{"x":2010.74,"y":-42},{"x":2010.88,"y":-29},{"x":2011.22,"y":74},{"x":2011.35,"y":64},{"x":2011.35,"y":55},{"x":2011.05,"y":22},{"x":2011.69,"y":6},{"x":2011.9,"y":-40},{"x":2012.0,"y":6},{"x":2012.37,"y":31},{"x":2012.44,"y":14},{"x":2012.64,"y":-75},{"x":2012.71,"y":-69},{"x":2012.78,"y":-13},{"x":2016.54,"y":-9},{"x":2016.63,"y":-16}]},
  "mark":{"type":"circle","size":60,"opacity":1,"fill":"#ffffff","stroke":"#2b2b2b","strokeWidth":0.9},
  "encoding":{"x":{"field":"x","type":"quantitative","scale":{"domain":[1996,2017],"nice":false,"zero":false},"axis":null},
   "y":{"field":"y","type":"quantitative","scale":{"domain":[-109.8,109.8],"nice":false,"zero":false},"axis":{"orient":"right","title":["TA","anomaly"],"values":[-100,-80,-60,-40,-20,0,20,40,60,80,100],"labelExpr":"datum.value % 40 != 0 ? '' : datum.value > 0 ? '+' + datum.value : datum.value < 0 ? '-' + abs(datum.value) : '0'","labelAlign":"right","labelPadding":50,"titleAngle":270,"titleBaseline":"top","titleAlign":"center","titleX":77,"titleY":88.5}}}},
 {"data":{"values":[{"s":"t","x":1996,"y":2338.2},{"s":"t","x":2017,"y":2310.6},{"s":"n","x":1996,"y":2321.3},{"s":"n","x":2017,"y":2326.4}]},
  "mark":{"type":"line","strokeWidth":1.3},
  "encoding":{"x":{"field":"x","type":"quantitative","scale":{"domain":[1996,2017],"nice":false,"zero":false},"axis":null},
   "y":{"field":"y","type":"quantitative","scale":{"domain":[2219,2428],"nice":false,"zero":false},"axis":null},
   "color":{"field":"s","type":"nominal","scale":{"domain":["t","n"],"range":["#3cb6e2","#5aa5b7"]},"legend":null}}},
 {"data":{"values":[{"x":2013.54,"y":2267,"t":"+0.24 (ns)/-1.44"},{"x":2013.54,"y":2241,"t":"μmol/yr"}]},
  "mark":{"type":"text","align":"left","baseline":"middle","fontSize":16.5,"color":"#222"},
  "encoding":{"x":{"field":"x","type":"quantitative","scale":{"domain":[1996,2017],"nice":false,"zero":false},"axis":null},
   "y":{"field":"y","type":"quantitative","scale":{"domain":[2219,2428],"nice":false,"zero":false},"axis":null},"text":{"field":"t"}}}
 ],
 "resolve":{"scale":{"y":"independent","fill":"independent","color":"independent"}}},

{"width":880,"height":173,"title":{"text":"E","dx":-108,"dy":52},
 "layer":[
 {"data":{"values":[{"x":1996.24,"y":8.082},{"x":1996.43,"y":8.1},{"x":1996.48,"y":8.087},{"x":1996.27,"y":8.075},{"x":1996.65,"y":8.14},{"x":1996.68,"y":8.082},{"x":1996.79,"y":8.051},{"x":1997.02,"y":8.06},{"x":1997.15,"y":8.087},{"x":1997.39,"y":8.092},{"x":1997.49,"y":8.134},{"x":1997.6,"y":8.138},{"x":1997.63,"y":8.258},{"x":1997.79,"y":8.186},{"x":1998.24,"y":8.202},{"x":1998.38,"y":8.135},{"x":1998.58,"y":8.121},{"x":1998.69,"y":8.155},{"x":1998.69,"y":8.073},{"x":1998.47,"y":8.02},{"x":1999.37,"y":8.033},{"x":1999.7,"y":8.176},{"x":2001.5,"y":8.197},{"x":2001.68,"y":8.163},{"x":2001.54,"y":8.102},{"x":2001.37,"y":8.008},{"x":2002.45,"y":8.18},{"x":2002.66,"y":8.167},{"x":2002.52,"y":8.121},{"x":2002.32,"y":8.075},{"x":2002.79,"y":8.075},{"x":2003.31,"y":7.982},{"x":2003.47,"y":8.041},{"x":2004.7,"y":8.215},{"x":2004.67,"y":8.15},{"x":2005.67,"y":8.1},{"x":2005.62,"y":8.071},{"x":2005.58,"y":8.045},{"x":2007.14,"y":7.987},{"x":2007.21,"y":8.066},{"x":2007.82,"y":8.184},{"x":2007.93,"y":8.176},{"x":2007.89,"y":8.117},{"x":2008.16,"y":8.071},{"x":2008.26,"y":8.054},{"x":2008.36,"y":8.079},{"x":2008.61,"y":8.104},{"x":2008.7,"y":8.107},{"x":2008.74,"y":8.02},{"x":2008.88,"y":8.012},{"x":2009.02,"y":8.008},{"x":2008.84,"y":8.062},{"x":2009.25,"y":8.05},{"x":2009.38,"y":8.058},{"x":2009.59,"y":8.041},{"x":2009.45,"y":7.966},{"x":2009.75,"y":7.991},{"x":2009.86,"y":8.079},{"x":2009.99,"y":8.003},{"x":2010.06,"y":8.1},{"x":2010.13,"y":8.125},{"x":2010.47,"y":8.033},{"x":2010.53,"y":8.058},{"x":2010.65,"y":7.924},{"x":2010.74,"y":8.076},{"x":2010.81,"y":8.054},{"x":2010.88,"y":8.008},{"x":2010.95,"y":8.113},{"x":2011.05,"y":8.096},{"x":2011.22,"y":8.083},{"x":2011.35,"y":8.075},{"x":2011.46,"y":8.02},{"x":2011.62,"y":8.033},{"x":2011.79,"y":8.079},{"x":2011.9,"y":8.088},{"x":2012.06,"y":8.1},{"x":2012.37,"y":8.121},{"x":2012.47,"y":8.079},{"x":2012.58,"y":8.026},{"x":2012.68,"y":7.865},{"x":2012.92,"y":8.079},{"x":2012.98,"y":8.058},{"x":2016.58,"y":8.066},{"x":2016.63,"y":8.05},{"x":2016.58,"y":8.024}]},
  "mark":{"type":"circle","size":115,"opacity":1,"fill":"#f6da00","stroke":"#2b2b2b","strokeWidth":0.9},
  "encoding":{"x":{"field":"x","type":"quantitative","scale":{"domain":[1996,2017],"nice":false,"zero":false},"axis":null},
   "y":{"field":"y","type":"quantitative","scale":{"domain":[7.855,8.291],"nice":false,"zero":false},"axis":{"orient":"left","title":"pH","values":[7.9,8.0,8.1,8.2],"format":".1f","labelPadding":3,"titleAngle":270,"titleBaseline":"bottom","titleAlign":"center","titleX":-88,"titleY":86.5}}}},
 {"data":{"values":[{"x":1996.24,"y":0.031},{"x":1996.4,"y":0.002},{"x":1996.52,"y":-0.034},{"x":1996.79,"y":-0.034},{"x":1996.71,"y":-0.059},{"x":1997.15,"y":0.04},{"x":1997.06,"y":0.024},{"x":1997.47,"y":0.006},{"x":1997.56,"y":0.006},{"x":1997.66,"y":0.088},{"x":1997.79,"y":0.067},{"x":1998.24,"y":0.125},{"x":1998.55,"y":-0.009},{"x":1998.47,"y":-0.059},{"x":1998.72,"y":-0.069},{"x":1998.72,"y":-0.001},{"x":1999.4,"y":-0.034},{"x":1999.7,"y":0.009},{"x":2001.5,"y":0.071},{"x":2001.68,"y":0.017},{"x":2001.57,"y":-0.02},{"x":2001.37,"y":-0.052},{"x":2002.32,"y":0.025},{"x":2002.48,"y":0.062},{"x":2002.66,"y":0.02},{"x":2002.82,"y":-0.016},{"x":2003.31,"y":-0.038},{"x":2003.47,"y":-0.049},{"x":2004.7,"y":0.042},{"x":2004.67,"y":0.006},{"x":2005.62,"y":-0.045},{"x":2005.58,"y":-0.056},{"x":2005.58,"y":-0.074},{"x":2007.35,"y":0.001},{"x":2007.25,"y":-0.034},{"x":2007.55,"y":-0.081},{"x":2007.75,"y":-0.092},{"x":2007.82,"y":0.066},{"x":2007.96,"y":0.1},{"x":2008.09,"y":0.024},{"x":2008.34,"y":0.024},{"x":2008.57,"y":-0.078},{"x":2008.7,"y":-0.041},{"x":2008.77,"y":-0.099},{"x":2008.74,"y":-0.115},{"x":2008.84,"y":-0.088},{"x":2008.93,"y":-0.052},{"x":2009.15,"y":0.024},{"x":2009.32,"y":0.006},{"x":2009.38,"y":-0.005},{"x":2009.59,"y":-0.074},{"x":2009.72,"y":-0.128},{"x":2009.97,"y":-0.027},{"x":2010.13,"y":0.067},{"x":2010.2,"y":0.049},{"x":2010.29,"y":0.031},{"x":2010.51,"y":-0.052},{"x":2010.65,"y":-0.161},{"x":2010.81,"y":-0.034},{"x":2010.92,"y":-0.092},{"x":2010.95,"y":0.06},{"x":2011.05,"y":0.049},{"x":2011.19,"y":0.031},{"x":2011.29,"y":0.02},{"x":2011.42,"y":-0.059},{"x":2011.6,"y":-0.081},{"x":2011.73,"y":-0.096},{"x":2011.87,"y":-0.038},{"x":2012.06,"y":0.057},{"x":2012.41,"y":0.03},{"x":2012.58,"y":-0.078},{"x":2012.92,"y":-0.038},{"x":2012.96,"y":0.011},{"x":2016.58,"y":-0.062},{"x":2016.63,"y":-0.081}]},
  "mark":{"type":"circle","size":60,"opacity":1,"fill":"#ffffff","stroke":"#2b2b2b","strokeWidth":0.9},
  "encoding":{"x":{"field":"x","type":"quantitative","scale":{"domain":[1996,2017],"nice":false,"zero":false},"axis":null},
   "y":{"field":"y","type":"quantitative","scale":{"domain":[-0.189,0.187],"nice":false,"zero":false},"axis":{"orient":"right","title":["pH","anomaly"],"values":[-0.15,-0.1,-0.05,0,0.05,0.1,0.15],"labelExpr":"round(datum.value*100) % 10 != 0 ? '' : datum.value > 0.001 ? '+' + format(datum.value,'.2f') : datum.value < -0.001 ? '-' + format(-datum.value,'.2f') : '0'","labelAlign":"right","labelPadding":67,"titleAngle":270,"titleBaseline":"top","titleAlign":"center","titleX":77,"titleY":86.5}}}},
 {"data":{"values":[{"x":1996,"y":8.1235},{"x":2017,"y":8.02}]},
  "mark":{"type":"line","stroke":"#333333","strokeWidth":1.2},
  "encoding":{"x":{"field":"x","type":"quantitative","scale":{"domain":[1996,2017],"nice":false,"zero":false},"axis":null},
   "y":{"field":"y","type":"quantitative","scale":{"domain":[7.855,8.291],"nice":false,"zero":false},"axis":null}}},
 {"data":{"values":[{"x":2013.54,"y":7.9,"t":"-0.0046/yr"}]},
  "mark":{"type":"text","align":"left","baseline":"middle","fontSize":16.5,"color":"#222"},
  "encoding":{"x":{"field":"x","type":"quantitative","scale":{"domain":[1996,2017],"nice":false,"zero":false},"axis":null},
   "y":{"field":"y","type":"quantitative","scale":{"domain":[7.855,8.291],"nice":false,"zero":false},"axis":null},"text":{"field":"t"}}}
 ],
 "resolve":{"scale":{"y":"independent"}}},

{"width":880,"height":175,"title":{"text":"F","dx":-108,"dy":51},
 "layer":[
 {"data":{"values":[{"x":1996.24,"y":386},{"x":1996.48,"y":382},{"x":1996.65,"y":379},{"x":1996.75,"y":398},{"x":1996.43,"y":368},{"x":1996.68,"y":342},{"x":1997.06,"y":398},{"x":1997.15,"y":382},{"x":1997.43,"y":379},{"x":1997.56,"y":345},{"x":1997.79,"y":332},{"x":1997.63,"y":285},{"x":1998.28,"y":330},{"x":1998.42,"y":354},{"x":1998.47,"y":418},{"x":1998.72,"y":397},{"x":1998.69,"y":337},{"x":1999.4,"y":414},{"x":1999.71,"y":330},{"x":2001.37,"y":429},{"x":2001.57,"y":370},{"x":2001.54,"y":323},{"x":2001.68,"y":332},{"x":2002.32,"y":389},{"x":2002.52,"y":361},{"x":2002.82,"y":389},{"x":2002.45,"y":329},{"x":2002.66,"y":329},{"x":2003.34,"y":437},{"x":2003.5,"y":403},{"x":2004.7,"y":342},{"x":2004.72,"y":310},{"x":2005.62,"y":401},{"x":2005.67,"y":386},{"x":2005.71,"y":370},{"x":2007.17,"y":436},{"x":2007.39,"y":429},{"x":2007.48,"y":392},{"x":2007.71,"y":417},{"x":2007.28,"y":395},{"x":2007.58,"y":407},{"x":2007.82,"y":329},{"x":2007.93,"y":345},{"x":2008.02,"y":398},{"x":2008.16,"y":401},{"x":2008.3,"y":398},{"x":2008.36,"y":392},{"x":2008.57,"y":423},{"x":2008.66,"y":364},{"x":2008.74,"y":436},{"x":2008.77,"y":455},{"x":2008.93,"y":439},{"x":2009.02,"y":417},{"x":2008.91,"y":401},{"x":2009.11,"y":407},{"x":2009.25,"y":417},{"x":2009.38,"y":405},{"x":2009.45,"y":461},{"x":2009.72,"y":451},{"x":2009.59,"y":414},{"x":2009.86,"y":389},{"x":2009.99,"y":429},{"x":2010.06,"y":379},{"x":2010.2,"y":368},{"x":2010.33,"y":382},{"x":2010.51,"y":420},{"x":2010.61,"y":404},{"x":2010.67,"y":505},{"x":2010.74,"y":382},{"x":2010.95,"y":436},{"x":2010.97,"y":370},{"x":2011.15,"y":392},{"x":2011.29,"y":386},{"x":2011.42,"y":401},{"x":2011.49,"y":423},{"x":2011.62,"y":429},{"x":2011.73,"y":417},{"x":2011.79,"y":389},{"x":2012.03,"y":379},{"x":2012.41,"y":364},{"x":2012.47,"y":386},{"x":2012.6,"y":418},{"x":2012.68,"y":548},{"x":2012.92,"y":382},{"x":2013.01,"y":395},{"x":2016.58,"y":414},{"x":2016.54,"y":401},{"x":2016.63,"y":423}]},
  "mark":{"type":"circle","size":115,"opacity":1,"fill":"#8d4a64","stroke":"#2b2b2b","strokeWidth":0.9},
  "encoding":{"x":{"field":"x","type":"quantitative","scale":{"domain":[1996,2017],"nice":false,"zero":false},"axis":null},
   "y":{"field":"y","type":"quantitative","scale":{"domain":[230,558],"nice":false,"zero":false},"axis":{"orient":"left","title":"pCO₂","values":[250,300,350,400,450,500,550],"labelExpr":"datum.value % 100 == 0 ? datum.value + '' : ''","labelPadding":3,"titleAngle":270,"titleBaseline":"bottom","titleAlign":"center","titleX":-88,"titleY":87.5}}}},
 {"data":{"values":[{"x":1996.24,"y":-91},{"x":1996.54,"y":14},{"x":1996.71,"y":62},{"x":1996.43,"y":-28},{"x":1996.68,"y":-53},{"x":1997.06,"y":-87},{"x":1997.2,"y":-99},{"x":1997.47,"y":-53},{"x":1997.56,"y":-62},{"x":1997.7,"y":-194},{"x":1997.79,"y":-155},{"x":1998.28,"y":-226},{"x":1998.42,"y":-111},{"x":1998.51,"y":74},{"x":1998.72,"y":93},{"x":1998.65,"y":-43},{"x":1999.4,"y":30},{"x":1999.71,"y":-67},{"x":2001.37,"y":79},{"x":2001.57,"y":-9},{"x":2001.68,"y":-74},{"x":2001.5,"y":-166},{"x":2002.32,"y":-77},{"x":2002.49,"y":-140},{"x":2002.52,"y":-23},{"x":2002.82,"y":-14},{"x":2003.31,"y":35},{"x":2003.5,"y":40},{"x":2004.7,"y":-57},{"x":2004.72,"y":-111},{"x":2005.62,"y":91},{"x":2005.65,"y":55},{"x":2007.25,"y":-60},{"x":2007.11,"y":35},{"x":2007.52,"y":14},{"x":2007.58,"y":137},{"x":2007.75,"y":152},{"x":2007.82,"y":-160},{"x":2007.96,"y":-201},{"x":2008.02,"y":-72},{"x":2008.16,"y":-77},{"x":2008.34,"y":-67},{"x":2008.5,"y":-23},{"x":2008.57,"y":123},{"x":2008.7,"y":166},{"x":2008.77,"y":157},{"x":2008.74,"y":191},{"x":2008.8,"y":200},{"x":2008.84,"y":98},{"x":2008.91,"y":59},{"x":2009.11,"y":6},{"x":2009.21,"y":-72},{"x":2009.32,"y":-33},{"x":2009.45,"y":171},{"x":2009.72,"y":225},{"x":2009.59,"y":74},{"x":2010.1,"y":-130},{"x":2010.16,"y":-145},{"x":2010.29,"y":-77},{"x":2010.51,"y":79},{"x":2010.65,"y":74},{"x":2010.81,"y":11},{"x":2010.88,"y":142},{"x":2010.97,"y":-130},{"x":2011.08,"y":-111},{"x":2011.19,"y":-80},{"x":2011.33,"y":-80},{"x":2011.46,"y":89},{"x":2011.6,"y":142},{"x":2011.69,"y":113},{"x":2011.76,"y":150},{"x":2012.1,"y":-132},{"x":2012.41,"y":-90},{"x":2012.51,"y":-14},{"x":2012.6,"y":105},{"x":2012.92,"y":18},{"x":2013.01,"y":-70},{"x":2016.58,"y":115},{"x":2016.63,"y":111},{"x":2016.54,"y":69}]},
  "mark":{"type":"circle","size":60,"opacity":1,"fill":"#ffffff","stroke":"#2b2b2b","strokeWidth":0.9},
  "encoding":{"x":{"field":"x","type":"quantitative","scale":{"domain":[1996,2017],"nice":false,"zero":false},"axis":null},
   "y":{"field":"y","type":"quantitative","scale":{"domain":[-255,255],"nice":false,"zero":false},"axis":{"orient":"right","title":["pCO₂","anomaly"],"values":[-200,-100,0,100,200],"labelExpr":"datum.value > 0 ? '+' + datum.value : datum.value < 0 ? '-' + abs(datum.value) : '0'","labelAlign":"right","labelPadding":60,"titleAngle":270,"titleBaseline":"top","titleAlign":"center","titleX":77,"titleY":87.5}}}},
 {"data":{"values":[{"x":1996,"y":357.4},{"x":2017,"y":424.4}]},
  "mark":{"type":"line","stroke":"#b35d7a","strokeWidth":1.3},
  "encoding":{"x":{"field":"x","type":"quantitative","scale":{"domain":[1996,2017],"nice":false,"zero":false},"axis":null},
   "y":{"field":"y","type":"quantitative","scale":{"domain":[230,558],"nice":false,"zero":false},"axis":null}}},
 {"data":{"values":[{"x":2013.54,"y":259,"t":"+5.40 μatm/yr"}]},
  "mark":{"type":"text","align":"left","baseline":"middle","fontSize":16.5,"color":"#222"},
  "encoding":{"x":{"field":"x","type":"quantitative","scale":{"domain":[1996,2017],"nice":false,"zero":false},"axis":null},
   "y":{"field":"y","type":"quantitative","scale":{"domain":[230,558],"nice":false,"zero":false},"axis":null},"text":{"field":"t"}}}
 ],
 "resolve":{"scale":{"y":"independent"}}},

{"width":880,"height":175,"title":{"text":"G","dx":-108,"dy":50},
 "layer":[
 {"data":{"values":[{"x":1996.24,"y":3.49},{"x":1996.43,"y":3.58},{"x":1996.52,"y":3.65},{"x":1996.65,"y":4.19},{"x":1996.71,"y":3.99},{"x":1996.79,"y":3.52},{"x":1997.06,"y":3.68},{"x":1997.15,"y":4.03},{"x":1997.39,"y":3.87},{"x":1997.49,"y":3.75},{"x":1997.63,"y":4.93},{"x":1997.56,"y":4.39},{"x":1997.77,"y":4.3},{"x":1998.24,"y":4.3},{"x":1998.38,"y":4.19},{"x":1998.51,"y":4.32},{"x":1998.45,"y":3.87},{"x":1998.69,"y":3.78},{"x":1998.69,"y":4.57},{"x":1999.37,"y":3.62},{"x":1999.7,"y":4.84},{"x":2001.37,"y":3.23},{"x":2001.46,"y":4.91},{"x":2001.68,"y":4.48},{"x":2001.57,"y":4.17},{"x":2002.32,"y":4.07},{"x":2002.45,"y":4.61},{"x":2002.66,"y":4.49},{"x":2002.52,"y":4.14},{"x":2002.79,"y":4.03},{"x":2003.31,"y":3.38},{"x":2003.47,"y":3.48},{"x":2004.72,"y":5.04},{"x":2004.67,"y":4.22},{"x":2005.67,"y":4.05},{"x":2005.58,"y":3.63},{"x":2007.25,"y":3.78},{"x":2007.17,"y":3.14},{"x":2007.31,"y":3.35},{"x":2007.41,"y":3.45},{"x":2007.55,"y":3.58},{"x":2007.66,"y":3.38},{"x":2007.82,"y":4.66},{"x":2007.96,"y":4.61},{"x":2007.89,"y":4.03},{"x":2008.09,"y":3.99},{"x":2008.23,"y":3.87},{"x":2008.36,"y":4.01},{"x":2008.7,"y":4.09},{"x":2008.57,"y":3.72},{"x":2008.84,"y":3.82},{"x":2008.98,"y":3.28},{"x":2009.25,"y":3.62},{"x":2009.38,"y":3.89},{"x":2009.45,"y":3.08},{"x":2009.65,"y":3.55},{"x":2009.86,"y":3.82},{"x":2009.99,"y":3.45},{"x":2010.1,"y":3.85},{"x":2010.24,"y":3.92},{"x":2010.37,"y":3.99},{"x":2010.47,"y":3.68},{"x":2010.61,"y":3.85},{"x":2010.74,"y":3.72},{"x":2010.65,"y":2.77},{"x":2010.92,"y":3.78},{"x":2010.97,"y":3.62},{"x":2011.05,"y":3.85},{"x":2011.19,"y":3.95},{"x":2011.29,"y":3.82},{"x":2011.35,"y":3.68},{"x":2011.42,"y":3.38},{"x":2011.62,"y":3.52},{"x":2011.83,"y":3.85},{"x":2011.9,"y":3.78},{"x":2012.06,"y":3.99},{"x":2012.41,"y":4.15},{"x":2012.55,"y":3.55},{"x":2012.64,"y":2.4},{"x":2012.92,"y":3.75},{"x":2012.98,"y":3.58},{"x":2016.58,"y":3.52},{"x":2016.63,"y":3.49}]},
  "mark":{"type":"circle","size":115,"opacity":1,"fill":"#f5a56c","stroke":"#2b2b2b","strokeWidth":0.9},
  "encoding":{"x":{"field":"x","type":"quantitative","scale":{"domain":[1996,2017],"nice":false,"zero":false},"axis":{"orient":"bottom","title":"Year","values":[1996,1997,1998,1999,2000,2001,2002,2003,2004,2005,2006,2007,2008,2009,2010,2011,2012,2013,2014,2015,2016,2017],"labelExpr":"datum.value % 2 == 0 ? datum.value + '' : ''","tickSize":12,"labelPadding":12,"titlePadding":14,"titleFontSize":22}},
   "y":{"field":"y","type":"quantitative","scale":{"domain":[1.99,5.525],"nice":false,"zero":false},"axis":{"orient":"left","title":"Ωaragonite","titleFontSize":19,"values":[2,2.5,3,3.5,4,4.5,5,5.5],"labelExpr":"datum.value % 1 == 0 && datum.value > 2.5 ? format(datum.value,'.1f') : ''","labelPadding":3,"titleAngle":270,"titleBaseline":"bottom","titleAlign":"center","titleX":-88,"titleY":87.5}}}},
 {"data":{"values":[{"x":1996.24,"y":-0.49},{"x":1996.43,"y":-0.08},{"x":1996.52,"y":-0.03},{"x":1996.68,"y":0.26},{"x":1996.71,"y":0.06},{"x":1996.79,"y":-0.32},{"x":1997.06,"y":-0.59},{"x":1997.15,"y":-0.4},{"x":1997.39,"y":-0.24},{"x":1997.49,"y":0.02},{"x":1997.63,"y":0.73},{"x":1997.56,"y":0.41},{"x":1997.79,"y":0.18},{"x":1998.24,"y":0.02},{"x":1998.42,"y":-0.05},{"x":1998.47,"y":0.05},{"x":1998.55,"y":0.34},{"x":1998.69,"y":0.41},{"x":1998.72,"y":-0.11},{"x":1999.37,"y":-0.41},{"x":1999.7,"y":0.56},{"x":2001.37,"y":-0.64},{"x":2001.5,"y":0.67},{"x":2001.68,"y":0.47},{"x":2001.57,"y":0.26},{"x":2002.32,"y":-0.12},{"x":2002.48,"y":0.49},{"x":2002.52,"y":0.25},{"x":2002.79,"y":-0.01},{"x":2003.34,"y":-0.56},{"x":2003.47,"y":-0.2},{"x":2004.72,"y":0.68},{"x":2004.67,"y":0.27},{"x":2005.62,"y":0.06},{"x":2005.58,"y":-0.03},{"x":2007.17,"y":-0.99},{"x":2007.28,"y":-0.56},{"x":2007.39,"y":-0.53},{"x":2007.52,"y":-0.22},{"x":2007.66,"y":-0.08},{"x":2007.82,"y":0.41},{"x":2007.89,"y":-0.4},{"x":2008.02,"y":-0.43},{"x":2008.16,"y":-0.45},{"x":2008.34,"y":-0.4},{"x":2007.96,"y":0.09},{"x":2008.5,"y":-0.03},{"x":2008.57,"y":-0.27},{"x":2008.66,"y":0.1},{"x":2008.74,"y":-0.5},{"x":2008.84,"y":-0.58},{"x":2008.98,"y":-0.74},{"x":2009.07,"y":-0.66},{"x":2009.18,"y":-0.61},{"x":2009.32,"y":-0.45},{"x":2009.45,"y":-0.48},{"x":2009.59,"y":-0.06},{"x":2009.72,"y":-0.35},{"x":2009.79,"y":-0.53},{"x":2009.93,"y":-0.61},{"x":2010.06,"y":-0.66},{"x":2010.2,"y":-0.64},{"x":2010.27,"y":-0.27},{"x":2010.4,"y":-0.08},{"x":2010.53,"y":-0.19},{"x":2010.67,"y":-0.58},{"x":2010.88,"y":-0.82},{"x":2010.81,"y":-0.14},{"x":2010.95,"y":-0.37},{"x":2011.15,"y":-0.56},{"x":2011.22,"y":-0.4},{"x":2011.35,"y":-0.37},{"x":2011.49,"y":-0.35},{"x":2011.62,"y":-0.11},{"x":2011.79,"y":-0.08},{"x":2011.92,"y":-0.56},{"x":2012.06,"y":-0.4},{"x":2012.37,"y":-0.06},{"x":2012.47,"y":-0.11},{"x":2012.64,"y":-0.85},{"x":2012.92,"y":-0.56},{"x":2012.98,"y":-0.53},{"x":2016.54,"y":-0.14},{"x":2016.63,"y":-0.16}]},
  "mark":{"type":"circle","size":60,"opacity":1,"fill":"#ffffff","stroke":"#2b2b2b","strokeWidth":0.9},
  "encoding":{"x":{"field":"x","type":"quantitative","scale":{"domain":[1996,2017],"nice":false,"zero":false},"axis":{"orient":"bottom","title":"Year","values":[1996,1997,1998,1999,2000,2001,2002,2003,2004,2005,2006,2007,2008,2009,2010,2011,2012,2013,2014,2015,2016,2017],"labelExpr":"datum.value % 2 == 0 ? datum.value + '' : ''","tickSize":12,"labelPadding":12,"titlePadding":14,"titleFontSize":22}},
   "y":{"field":"y","type":"quantitative","scale":{"domain":[-1.38,1.38],"nice":false,"zero":false},"axis":{"orient":"right","title":["Ωaragonite","anomaly"],"titleFontSize":21,"values":[-1,-0.5,0,0.5,1],"labelExpr":"datum.value > 0 ? '+' + format(datum.value,'.1f') : datum.value < 0 ? '-' + format(-datum.value,'.1f') : '0'","labelAlign":"right","labelPadding":52,"titleAngle":270,"titleBaseline":"top","titleAlign":"center","titleX":77,"titleY":87.5}}}},
 {"data":{"values":[{"x":1996,"y":4.14},{"x":2017,"y":3.38}]},
  "mark":{"type":"line","stroke":"#333333","strokeWidth":1.2},
  "encoding":{"x":{"field":"x","type":"quantitative","scale":{"domain":[1996,2017],"nice":false,"zero":false},"axis":{"orient":"bottom","title":"Year","values":[1996,1997,1998,1999,2000,2001,2002,2003,2004,2005,2006,2007,2008,2009,2010,2011,2012,2013,2014,2015,2016,2017],"labelExpr":"datum.value % 2 == 0 ? datum.value + '' : ''","tickSize":12,"labelPadding":12,"titlePadding":14,"titleFontSize":22}},
   "y":{"field":"y","type":"quantitative","scale":{"domain":[1.99,5.525],"nice":false,"zero":false},"axis":null}}},
 {"data":{"values":[{"x":2013.54,"y":2.32,"t":"-0.031/yr"}]},
  "mark":{"type":"text","align":"left","baseline":"middle","fontSize":16.5,"color":"#222"},
  "encoding":{"x":{"field":"x","type":"quantitative","scale":{"domain":[1996,2017],"nice":false,"zero":false},"axis":{"orient":"bottom","title":"Year","values":[1996,1997,1998,1999,2000,2001,2002,2003,2004,2005,2006,2007,2008,2009,2010,2011,2012,2013,2014,2015,2016,2017],"labelExpr":"datum.value % 2 == 0 ? datum.value + '' : ''","tickSize":12,"labelPadding":12,"titlePadding":14,"titleFontSize":22}},
   "y":{"field":"y","type":"quantitative","scale":{"domain":[1.99,5.525],"nice":false,"zero":false},"axis":null},"text":{"field":"t"}}}
 ],
 "resolve":{"scale":{"y":"independent"}}}
]
}
